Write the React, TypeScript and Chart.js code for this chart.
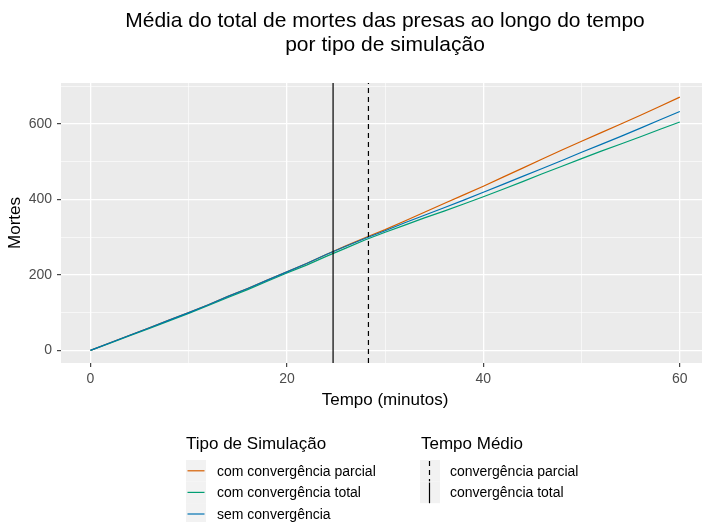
import React, { useEffect, useRef } from "react";
import { Chart, registerables } from "chart.js";

Chart.register(...registerables);

const TITLE_LINES = ["Média do total de mortes das presas ao longo do tempo", "por tipo de simulação"];
const X_TITLE = "Tempo (minutos)";
const Y_TITLE = "Mortes";

const TEMPO = [0, 2, 4, 6, 8, 10, 12, 14, 16, 18, 20, 22, 24, 26, 28, 30, 32, 34, 36, 38, 40, 42, 44, 46, 48, 50, 52, 54, 56, 58, 60];
const PARCIAL = [0, 20, 40, 60, 80, 100, 121, 143, 164, 186, 208, 230, 254, 277, 299, 320, 343, 366, 389, 412, 435, 459, 483, 507, 531, 554, 577, 600, 623, 647, 671];
const TOTAL = [0, 19, 39, 58, 78, 98, 119, 140, 161, 183, 205, 226, 249, 271, 293, 313, 332, 351, 369, 388, 407, 427, 447, 468, 488, 508, 528, 547, 566, 586, 605];
const SEM = [0, 20, 40, 60, 80, 100, 121, 143, 164, 186, 208, 230, 254, 276, 297, 317, 338, 358, 378, 398, 419, 440, 461, 482, 503, 525, 546, 567, 589, 611, 633];

const SERIES_NAMES = ["com convergência parcial", "com convergência total", "sem convergência"];
const SERIES_COLORS = ["#D55E00", "#009E73", "#0072B2"];

const VLINE_NAMES = ["convergência parcial", "convergência total"];
const VLINE_VALUES = [28.3, 24.7];

const X_TICKS = [0, 10, 20, 30, 40, 50, 60];
const Y_TICKS = [0, 100, 200, 300, 400, 500, 600, 700];

const X_MIN = -3;
const X_MAX = 62.26;
const Y_MIN = -33.5;
const Y_MAX = 708.5;

const FONT = "'Liberation Sans', Arial, sans-serif";

export default function App() {
  const ref = useRef<HTMLCanvasElement | null>(null);

  useEffect(() => {
    document.body.style.margin = "0";
    const canvas = ref.current;
    if (!canvas) return;

    const pts = (vals: number[]) => TEMPO.map((t, i) => ({ x: t, y: vals[i] }));

    const overlay = {
      id: "overlay",
      beforeDraw(chart: any) {
        const { ctx, chartArea } = chart;
        ctx.save();
        ctx.fillStyle = "#EBEBEB";
        ctx.fillRect(chartArea.left, chartArea.top, chartArea.right - chartArea.left, chartArea.bottom - chartArea.top);
        ctx.restore();
      },
      afterDraw(chart: any) {
        const { ctx } = chart;
        ctx.save();
        ctx.fillStyle = "#000";
        ctx.textAlign = "center";
        ctx.textBaseline = "middle";
        ctx.font = `21px ${FONT}`;
        ctx.fillText(TITLE_LINES[0], 385, 21);
        ctx.fillText(TITLE_LINES[1], 385, 45);

        ctx.font = `17px ${FONT}`;
        ctx.fillText(X_TITLE, 385, 400);
        ctx.save();
        ctx.translate(15.5, 223);
        ctx.rotate(-Math.PI / 2);
        ctx.fillText(Y_TITLE, 0, 0);
        ctx.restore();

        // Legend 1
        ctx.textAlign = "left";
        ctx.font = `17px ${FONT}`;
        ctx.fillText("Tipo de Simulação", 186, 444);
        ctx.fillText("Tempo Médio", 421, 444);

        const keyW = 20;
        const keyH = 21.6;
        const top = 460;
        ctx.font = `14px ${FONT}`;
        SERIES_NAMES.forEach((name, i) => {
          const y0 = top + i * keyH;
          ctx.fillStyle = "#F2F2F2";
          ctx.fillRect(186, y0, keyW, keyH);
          ctx.strokeStyle = SERIES_COLORS[i];
          ctx.lineWidth = 1.2;
          ctx.beginPath();
          ctx.moveTo(187.5, y0 + keyH / 2);
          ctx.lineTo(204.5, y0 + keyH / 2);
          ctx.stroke();
          ctx.fillStyle = "#000";
          ctx.fillText(name, 217, y0 + keyH / 2 + 1);
        });

        VLINE_NAMES.forEach((name, i) => {
          const y0 = top + i * keyH;
          ctx.fillStyle = "#F2F2F2";
          ctx.fillRect(420, y0, keyW, keyH);
          ctx.strokeStyle = "#000";
          ctx.lineWidth = 1.2;
          ctx.setLineDash(i === 0 ? [5, 4] : []);
          ctx.beginPath();
          ctx.moveTo(429.5, y0 + 1);
          ctx.lineTo(429.5, y0 + keyH);
          ctx.stroke();
          ctx.setLineDash([]);
          ctx.fillStyle = "#000";
          ctx.fillText(name, 450, y0 + keyH / 2 + 1);
        });
        ctx.restore();
      },
    };

    const vline = (v: number, dash: number[]) => ({
      data: [
        { x: v, y: Y_MIN },
        { x: v, y: Y_MAX },
      ],
      borderColor: "#000",
      borderWidth: 1.2,
      borderDash: dash,
      pointRadius: 0,
      fill: false,
    });

    const chart = new Chart(canvas, {
      type: "line",
      data: {
        datasets: [
          vline(VLINE_VALUES[0], [5, 4]),
          vline(VLINE_VALUES[1], []),
          { data: pts(SEM), borderColor: SERIES_COLORS[2], borderWidth: 1.2, pointRadius: 0, fill: false },
          { data: pts(TOTAL), borderColor: SERIES_COLORS[1], borderWidth: 1.2, pointRadius: 0, fill: false },
          { data: pts(PARCIAL), borderColor: SERIES_COLORS[0], borderWidth: 1.2, pointRadius: 0, fill: false },
        ] as any,
      },
      options: {
        animation: false,
        responsive: false,
        maintainAspectRatio: false,
        layout: { padding: { top: 83, left: 0, right: 0, bottom: 0 } },
        plugins: {
          legend: { display: false },
          title: { display: false },
          tooltip: { enabled: false },
        },
        elements: { line: { tension: 0 } },
        scales: {
          x: {
            type: "linear",
            min: X_MIN,
            max: X_MAX,
            afterBuildTicks: (axis: any) => {
              axis.ticks = X_TICKS.map((v) => ({ value: v }));
            },
            afterFit: (axis: any) => {
              axis.height = 159;
            },
            border: { display: false },
            grid: {
              color: "#FFFFFF",
              lineWidth: (c: any) => (c.tick && c.tick.value % 20 === 0 ? 1.3 : 0.6),
              tickColor: (c: any) => (c.tick && c.tick.value % 20 === 0 ? "#333333" : "rgba(0,0,0,0)"),
              tickLength: 4,
              tickWidth: 1.1,
              drawTicks: true,
            },
            ticks: {
              autoSkip: false,
              maxRotation: 0,
              padding: 4,
              color: "#4D4D4D",
              font: { family: FONT, size: 14 },
              callback: (v: any) => (Number(v) % 20 === 0 ? String(v) : ""),
            },
          },
          y: {
            type: "linear",
            min: Y_MIN,
            max: Y_MAX,
            afterBuildTicks: (axis: any) => {
              axis.ticks = Y_TICKS.map((v) => ({ value: v }));
            },
            afterFit: (axis: any) => {
              axis.width = 61;
            },
            border: { display: false },
            grid: {
              color: "#FFFFFF",
              lineWidth: (c: any) => (c.tick && c.tick.value % 200 === 0 ? 1.3 : 0.6),
              tickColor: (c: any) => (c.tick && c.tick.value % 200 === 0 ? "#333333" : "rgba(0,0,0,0)"),
              tickLength: 4,
              tickWidth: 1.1,
              drawTicks: true,
            },
            ticks: {
              autoSkip: false,
              padding: 5,
              color: "#4D4D4D",
              font: { family: FONT, size: 14 },
              callback: (v: any) => (Number(v) % 200 === 0 ? String(v) : ""),
            },
          },
        },
      },
      plugins: [overlay],
    } as any);

    return () => chart.destroy();
  }, []);

  return (
    <div style={{ width: 702, height: 522, position: "relative" }}>
      <canvas ref={ref} width={702} height={522} style={{ display: "block", width: 702, height: 522 }} />
    </div>
  );
}
